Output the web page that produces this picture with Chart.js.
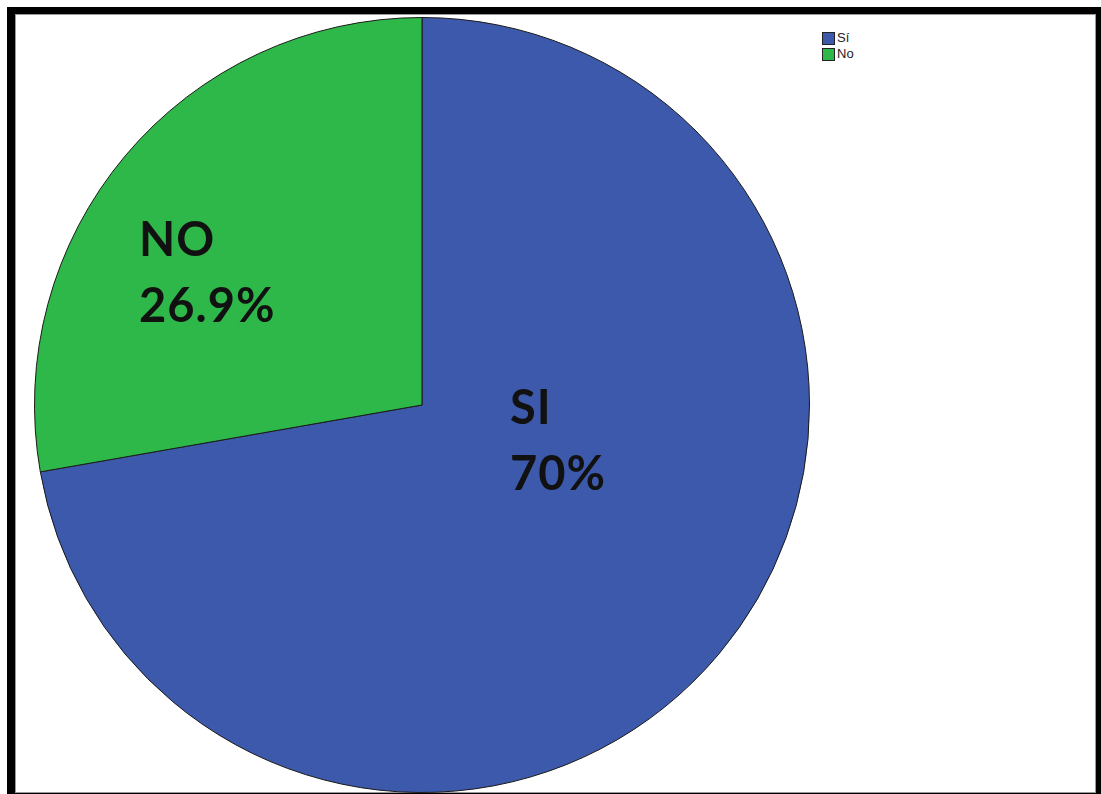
<!DOCTYPE html>
<html lang="es">
  <head>
    <meta charset="UTF-8" />
    <title>Sí / No</title>
    <script src="https://cdn.jsdelivr.net/npm/chart.js"></script>
    <style>
      html, body { margin: 0; padding: 0; background: #fff; overflow: hidden; }
      body { width: 1101px; height: 794px; position: relative; }
      .frame {
        position: absolute; left: 7px; top: 7px;
        width: 1097px; height: 794px; box-sizing: border-box;
        border-left: 8px solid #000; border-top: 7px solid #000;
        border-right: 8px solid #000; border-bottom: 8px solid #000;
        box-shadow: inset 0 0 0 1px #999;
      }
      #wrap { position: absolute; left: 34px; top: 17px; width: 776px; height: 776px; }
      .lbl {
        position: absolute; font-family: Lato, "Open Sans", sans-serif;
        font-weight: bold; font-size: 47px; line-height: 66px; color: #111;
        letter-spacing: 1px;
      }
      .legend { position: absolute; left: 822px; top: 30px; font-family: "Liberation Sans", Arial, sans-serif; font-size: 13px; color: #222; }
      .legend div { height: 16px; line-height: 16px; display: flex; align-items: center; }
      .legend span.sw { width: 11px; height: 11px; border: 1px solid #222; margin-right: 2px; display: inline-block; }
    </style>
  </head>
  <body>
    <div class="frame"></div>
    <div id="wrap"><canvas id="pie"></canvas></div>

    <div class="legend" id="legend"></div>

    <div class="lbl" style="left: 139px; top: 205px">NO<br />26.9%</div>
    <div class="lbl" style="left: 510px; top: 373px">SI<br />70%</div>

    <script>
      // datos
      const categorias = ["Sí", "No"];
      const valores = [70, 26.9];
      const colores = ["#3d59ab", "#2eb84a"];

      new Chart(document.getElementById("pie"), {
        type: "pie",
        data: {
          labels: categorias,
          datasets: [
            {
              data: valores,
              backgroundColor: colores,
              borderColor: "#1a1a1a",
              borderWidth: 1,
            },
          ],
        },
        options: {
          responsive: true,
          maintainAspectRatio: false,
          animation: false,
          layout: { padding: 0 },
          plugins: { legend: { display: false }, tooltip: { enabled: false } },
        },
      });

      // leyenda
      const leg = document.getElementById("legend");
      categorias.forEach((c, i) => {
        const row = document.createElement("div");
        row.innerHTML = '<span class="sw" style="background:' + colores[i] + '"></span>' + c;
        leg.appendChild(row);
      });
    </script>
  </body>
</html>
